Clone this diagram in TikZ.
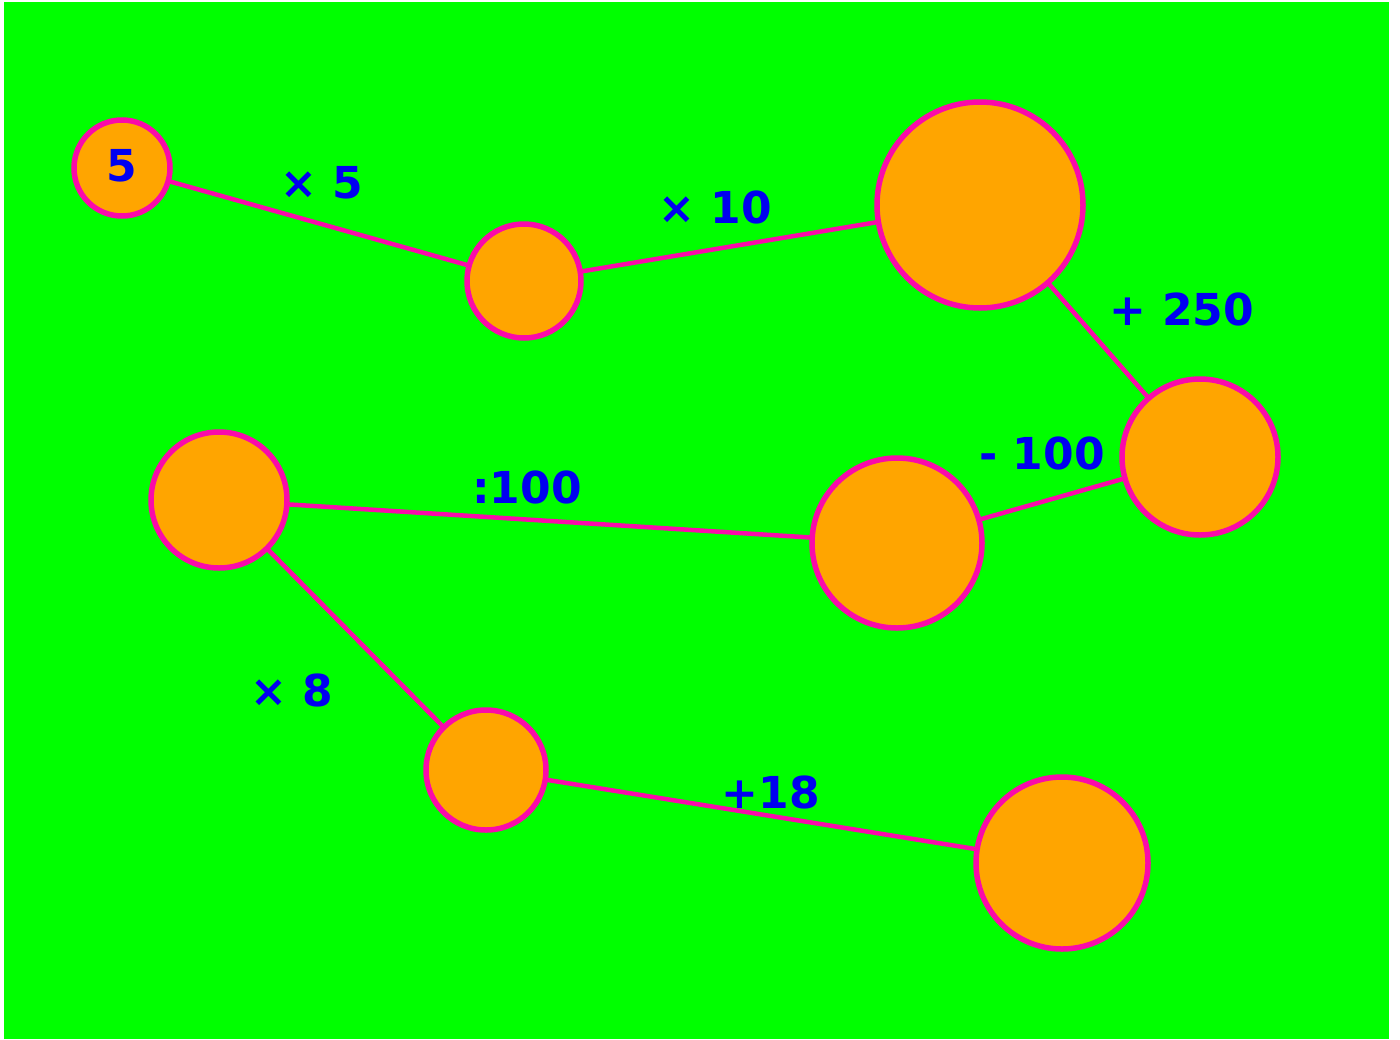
\documentclass[tikz,border=0pt]{standalone}
\usepackage{fontspec}
\setmainfont{DejaVu Sans}
\definecolor{bggreen}{RGB}{0,255,0}
\definecolor{ball}{RGB}{255,165,0}
\definecolor{rim}{RGB}{250,10,170}
\definecolor{txt}{RGB}{0,0,240}
\begin{document}
\begin{tikzpicture}[x=1pt,y=-1pt,
  ballst/.style={circle,draw=rim,line width=5.5pt,fill=ball,inner sep=0pt,minimum size=#1},
  link/.style={draw=rim,line width=4.5pt},
  lab/.style={text=txt,font=\fontsize{44}{48}\selectfont\bfseries,inner sep=0pt}]
\useasboundingbox (0,0) rectangle (1400,1039);
\fill[white] (0,0) rectangle (1400,1039);
\fill[bggreen] (4,2) rectangle (1389,1039);
\coordinate (c1) at (122,168);
\coordinate (c2) at (524,281);
\coordinate (c3) at (980,205);
\coordinate (c4) at (1200,457);
\coordinate (c5) at (897,543);
\coordinate (c6) at (219,500);
\coordinate (c7) at (486,770);
\coordinate (c8) at (1062,863);
\draw[link] (c1) -- (c2) -- (c3) -- (c4) -- (c5) -- (c6) -- (c7) -- (c8);
\node[ballst=96pt] (n1) at (c1) {};
\node[ballst=114pt] (n2) at (c2) {};
\node[ballst=206pt] (n3) at (c3) {};
\node[ballst=156pt] (n4) at (c4) {};
\node[ballst=170pt] (n5) at (c5) {};
\node[ballst=136pt] (n6) at (c6) {};
\node[ballst=120pt] (n7) at (c7) {};
\node[ballst=172pt] (n8) at (c8) {};
\node[lab] (t1) at (122,166) {5};
\node[lab] (l1) at (322,183) {× 5};
\node[lab] (l2) at (715,207) {× 10};
\node[lab] (l3) at (1182,309) {+ 250};
\node[lab] (l4) at (1042,453) {- 100};
\node[lab] (l5) at (527,487) {:100};
\node[lab] (l6) at (292,690) {× 8};
\node[lab] (l7) at (771,792) {+18};
\end{tikzpicture}
\end{document}
